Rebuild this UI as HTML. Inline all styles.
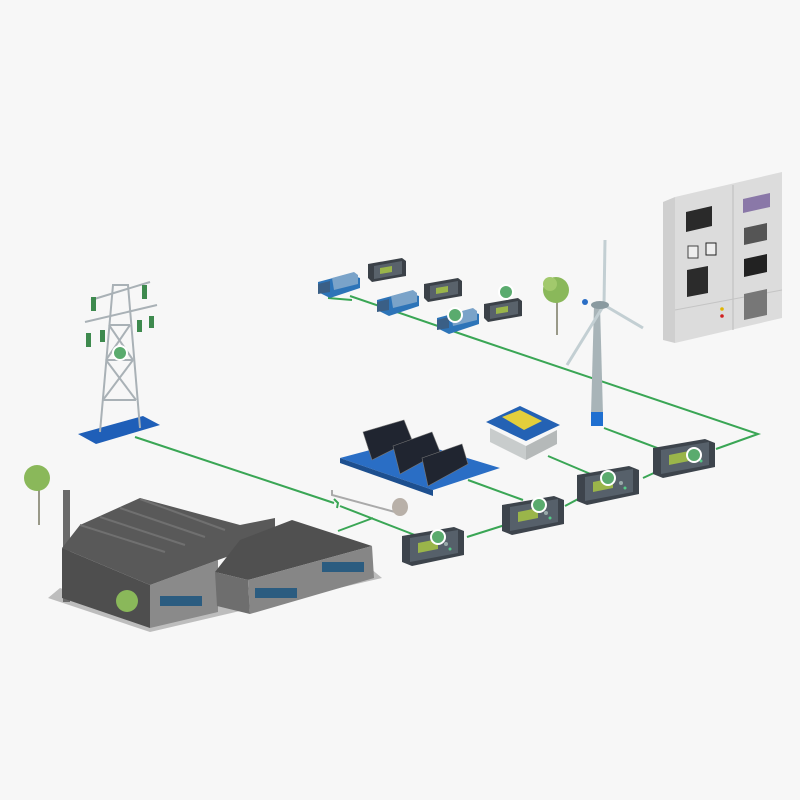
<!DOCTYPE html>
<html><head><meta charset="utf-8"><style>
html,body{margin:0;padding:0;background:#f7f7f7;}
svg{display:block}
</style></head><body>
<svg width="800" height="800" viewBox="0 0 800 800" xmlns="http://www.w3.org/2000/svg">
<rect width="800" height="800" fill="#f7f7f7"/>
<defs>
<g id="ctrl">
 <polygon points="0,9 52,0 62,4 62,28 10,39 0,35" fill="#3d444c"/>
 <polygon points="8,11 56,3 56,26 8,35" fill="#56606a"/>
 <polygon points="16,16 36,12 36,22 16,26" fill="#9ab54a"/>
 <circle cx="44" cy="17" r="2" fill="#9aa"/>
 <circle cx="48" cy="22" r="1.5" fill="#5c8"/>
</g>
<g id="gen">
 <polygon points="0,10 30,2 42,6 42,16 12,26 0,20" fill="#2d74b8"/>
 <polygon points="14,6 36,0 40,3 40,12 16,18" fill="#7aa3c9"/>
 <polygon points="0,12 12,9 12,20 0,22" fill="#3a5f86"/>
</g>
<g id="dev">
 <polygon points="0,6 34,0 38,3 38,18 4,24 0,20" fill="#3b4148"/>
 <polygon points="6,8 34,3 34,16 6,21" fill="#59626b"/>
 <polygon points="12,10 24,8 24,14 12,16" fill="#9ab54a"/>
</g>
</defs>

<g stroke="#3aa655" stroke-width="2" fill="none">
 <polyline points="135,437 334,503"/>
 <polyline points="340,506 420,537"/>
 <polyline points="338,531 373,518"/>
 <polyline points="467,537 505,525"/>
 <polyline points="565,506 580,498"/>
 <polyline points="643,478 656,472"/>
 <polyline points="468,480 523,500"/>
 <polyline points="548,456 600,478"/>
 <polyline points="604,428 668,452"/>
 <polyline points="350,296 470,337 758,434 716,449"/>
 <polyline points="328,298 352,300"/>
</g>
<path d="M334,499 l4,4 l-1,5" stroke="#3aa655" stroke-width="2" fill="none"/>

<!-- cabinet -->
<polygon points="663,202 675,197 675,343 663,340" fill="#cfcfcf"/>
<polygon points="675,197 782,172 782,318 675,343" fill="#dcdcdc"/>
<line x1="733" y1="185" x2="733" y2="330" stroke="#bbb"/>
<line x1="675" y1="310" x2="782" y2="290" stroke="#c4c4c4"/>
<polygon points="686,212 712,206 712,226 686,232" fill="#2a2a2a"/>
<polygon points="743,199 770,193 770,207 743,213" fill="#8a78a8"/>
<polygon points="744,228 767,223 767,240 744,245" fill="#555"/>
<polygon points="744,259 767,254 767,272 744,277" fill="#222"/>
<rect x="688" y="246" width="10" height="12" fill="#eee" stroke="#444"/>
<rect x="706" y="243" width="10" height="12" fill="#eee" stroke="#222"/>
<polygon points="687,270 708,266 708,293 687,297" fill="#2b2b2b"/>
<polygon points="744,294 767,289 767,315 744,320" fill="#777"/>
<circle cx="722" cy="309" r="1.8" fill="#e0b400"/>
<circle cx="722" cy="316" r="1.8" fill="#d02020"/>

<line x1="557" y1="298" x2="557" y2="335" stroke="#998" stroke-width="2"/>
<circle cx="556" cy="290" r="13" fill="#8ab85a"/>
<circle cx="550" cy="284" r="7" fill="#a2c96c"/>

<polygon points="594,305 600,305 603,415 591,415" fill="#a8b4b8"/>
<rect x="591" y="412" width="12" height="14" fill="#1f6fd0"/>
<line x1="604" y1="305" x2="605" y2="240" stroke="#c3cfd3" stroke-width="3"/>
<line x1="604" y1="305" x2="567" y2="365" stroke="#c3cfd3" stroke-width="3"/>
<line x1="604" y1="305" x2="643" y2="328" stroke="#c3cfd3" stroke-width="3"/>
<ellipse cx="600" cy="305" rx="9" ry="4" fill="#8a9aa0"/>
<circle cx="585" cy="302" r="3" fill="#2a6ec5"/>

<use href="#gen" x="318" y="272"/>
<use href="#dev" x="368" y="258"/>
<use href="#gen" x="377" y="290"/>
<use href="#dev" x="424" y="278"/>
<use href="#gen" x="437" y="308"/>
<use href="#dev" x="484" y="298"/>

<polygon points="78,434 143,416 160,425 96,444" fill="#1f5fb8"/>
<g stroke="#a9b1b6" stroke-width="2" fill="none">
 <polyline points="100,432 113,285 128,285 140,428"/>
 <line x1="103" y1="400" x2="136" y2="400"/><line x1="106" y1="360" x2="133" y2="360"/>
 <line x1="109" y1="325" x2="130" y2="325"/>
 <line x1="103" y1="400" x2="133" y2="360"/><line x1="136" y1="400" x2="106" y2="360"/>
 <line x1="106" y1="360" x2="130" y2="325"/><line x1="133" y1="360" x2="109" y2="325"/>
 <line x1="91" y1="300" x2="150" y2="282"/><line x1="85" y1="322" x2="157" y2="305"/>
</g>
<g fill="#3e8a4e"><rect x="91" y="297" width="5" height="14"/><rect x="142" y="285" width="5" height="14"/><rect x="86" y="333" width="5" height="14"/><rect x="100" y="330" width="5" height="12"/><rect x="137" y="320" width="5" height="12"/><rect x="149" y="316" width="5" height="12"/></g>

<polygon points="340,458 408,440 500,468 433,490" fill="#2a6ec5"/>
<polygon points="340,458 433,490 433,496 340,463" fill="#1d4f8f"/>
<polyline points="332,490 332,495 395,512" stroke="#aaa" stroke-width="2" fill="none"/>
<ellipse cx="400" cy="507" rx="8" ry="9" fill="#b8b0a8"/>
<g fill="#202530" stroke="#777" stroke-width="0.6">
<polygon points="363,432 404,420 412,440 372,460"/>
<polygon points="393,446 432,432 440,452 400,474"/>
<polygon points="422,458 462,444 468,464 428,486"/>
</g>

<polygon points="486,422 520,406 560,425 526,441" fill="#2462b4"/>
<polygon points="490,428 526,446 526,460 490,442" fill="#c8cccc"/>
<polygon points="526,446 557,430 557,444 526,460" fill="#b5b9b9"/>
<polygon points="502,417 520,410 542,421 524,430" fill="#e3cf3c"/>

<use href="#ctrl" x="402" y="527"/>
<use href="#ctrl" x="502" y="496"/>
<use href="#ctrl" x="577" y="466"/>
<use href="#ctrl" x="653" y="439"/>

<line x1="39" y1="485" x2="39" y2="525" stroke="#998" stroke-width="2"/>
<circle cx="37" cy="478" r="13" fill="#8ab85a"/>

<!-- factory -->
<polygon points="48,598 150,632 382,578 370,568 150,618 60,588" fill="#bdbdbd"/>
<rect x="63" y="490" width="7" height="112" fill="#6a6a6a"/>
<polygon points="62,548 150,585 150,628 62,598" fill="#4e4e4e"/>
<polygon points="150,585 218,560 218,612 150,628" fill="#8a8a8a"/>
<polygon points="62,548 80,525 140,498 240,525 275,518 275,540 218,560 150,585" fill="#595959"/>
<g stroke="#707070" stroke-width="2">
 <line x1="80" y1="525" x2="165" y2="552"/>
 <line x1="100" y1="517" x2="185" y2="545"/>
 <line x1="120" y1="508" x2="205" y2="537"/>
 <line x1="140" y1="499" x2="225" y2="530"/>
</g>
<!-- annex -->
<polygon points="215,572 248,580 372,546 292,520 240,540" fill="#505050"/>
<polygon points="215,572 248,580 250,614 217,606" fill="#6e6e6e"/>
<polygon points="248,580 372,546 374,578 250,614" fill="#868686"/>
<g fill="#2b5c80">
 <rect x="160" y="596" width="42" height="10"/><rect x="255" y="588" width="42" height="10"/><rect x="322" y="562" width="42" height="10"/>
</g>
<circle cx="127" cy="601" r="11" fill="#8ab85a"/>

<g fill="#5aab6e" stroke="#fff" stroke-width="2">
 <circle cx="120" cy="353" r="7"/>
 <circle cx="455" cy="315" r="7"/>
 <circle cx="506" cy="292" r="7"/>
 <circle cx="438" cy="537" r="7"/>
 <circle cx="539" cy="505" r="7"/>
 <circle cx="608" cy="478" r="7"/>
 <circle cx="694" cy="455" r="7"/>
</g>
</svg>
</body></html>
